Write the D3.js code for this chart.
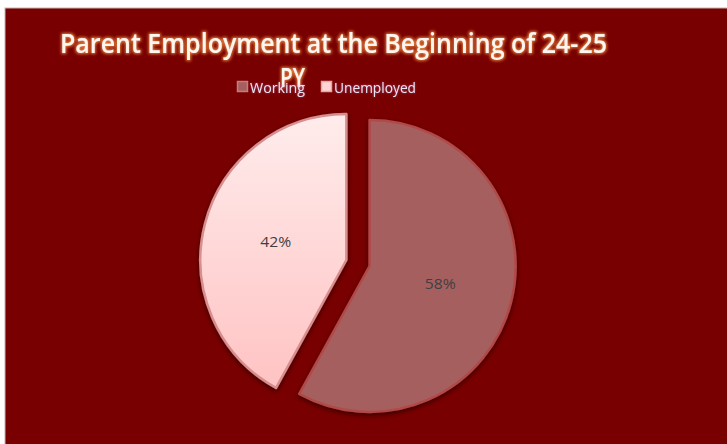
<!DOCTYPE html>
<html>
<head>
<meta charset="utf-8">
<script src="https://cdn.jsdelivr.net/npm/d3@7"></script>
<style>
  body { margin: 0; background: #ffffff; }
  svg { display: block; }
</style>
</head>
<body>
<div id="chart"></div>
<script>
// chart data
var categories = ['Working', 'Unemployed'];
var values = [58, 42];
var titleLines = ['Parent Employment at the Beginning of 24-25', 'PY'];

var width = 727, height = 444;
var radius = 146;
var center = {x: 358, y: 263};
var explode = 12; // distance each slice is pulled out

var fills = ['#a65f5f', 'url(#gradUnemp)'];
var strokes = ['#b24a4a', '#d88e8e'];
var swatch = ['#a65f5f', '#ffd6d6'];
var swatchStroke = ['#c47c7c', '#e6a6a6'];

var svg = d3.select('#chart')
    .append('svg')
    .attr('width', width)
    .attr('height', height);

var defs = svg.append('defs');

var grad = defs.append('linearGradient')
    .attr('id', 'gradUnemp')
    .attr('x1', 0).attr('y1', 0).attr('x2', 0).attr('y2', 1);
grad.append('stop').attr('offset', '0%').attr('stop-color', '#ffecec');
grad.append('stop').attr('offset', '100%').attr('stop-color', '#ffc3c3');

// soft shadow under the slices
var shadow = defs.append('filter').attr('id', 'shadow')
    .attr('x', '-20%').attr('y', '-20%').attr('width', '140%').attr('height', '140%');
shadow.append('feGaussianBlur').attr('in', 'SourceAlpha').attr('stdDeviation', 2.5);
shadow.append('feOffset').attr('dx', 0).attr('dy', 2).attr('result', 'off');
shadow.append('feComponentTransfer').append('feFuncA').attr('type', 'linear').attr('slope', 0.55);
var sm = shadow.append('feMerge');
sm.append('feMergeNode');
sm.append('feMergeNode').attr('in', 'SourceGraphic');

// orange glow behind the title text
var glow = defs.append('filter').attr('id', 'glow')
    .attr('x', '-10%').attr('y', '-40%').attr('width', '120%').attr('height', '180%');
glow.append('feMorphology').attr('in', 'SourceAlpha').attr('operator', 'dilate').attr('radius', 1.2).attr('result', 'dil');
glow.append('feGaussianBlur').attr('in', 'dil').attr('stdDeviation', 1.8).attr('result', 'blur');
glow.append('feFlood').attr('flood-color', '#ee8a40').attr('flood-opacity', 0.9);
glow.append('feComposite').attr('in2', 'blur').attr('operator', 'in').attr('result', 'glowc');
var gm = glow.append('feMerge');
gm.append('feMergeNode').attr('in', 'glowc');
gm.append('feMergeNode').attr('in', 'SourceGraphic');

var glowSmall = defs.append('filter').attr('id', 'glowSmall')
    .attr('x', '-10%').attr('y', '-40%').attr('width', '120%').attr('height', '180%');
glowSmall.append('feGaussianBlur').attr('in', 'SourceAlpha').attr('stdDeviation', 1).attr('result', 'blur');
glowSmall.append('feFlood').attr('flood-color', '#c07ad0').attr('flood-opacity', 0.6);
glowSmall.append('feComposite').attr('in2', 'blur').attr('operator', 'in').attr('result', 'glowc');
var gsm = glowSmall.append('feMerge');
gsm.append('feMergeNode').attr('in', 'glowc');
gsm.append('feMergeNode').attr('in', 'SourceGraphic');

// chart area background
svg.append('rect')
    .attr('x', 5).attr('y', 8)
    .attr('width', width).attr('height', height)
    .attr('fill', '#780000')
    .attr('stroke', '#c9b3b3')
    .attr('stroke-width', 1);

// title
svg.append('text')
    .attr('x', 60).attr('y', 53)
    .attr('textLength', 547)
    .attr('lengthAdjust', 'spacingAndGlyphs')
    .style('font-family', 'Open Sans, sans-serif')
    .style('font-size', '27px')
    .style('font-weight', 600)
    .attr('fill', '#fff6ee')
    .attr('filter', 'url(#glow)')
    .text(titleLines[0]);

svg.append('text')
    .attr('x', 280).attr('y', 87)
    .attr('textLength', 25)
    .attr('lengthAdjust', 'spacingAndGlyphs')
    .style('font-family', 'Open Sans, sans-serif')
    .style('font-size', '27px')
    .style('font-weight', 600)
    .attr('fill', '#fff6ee')
    .attr('filter', 'url(#glow)')
    .text(titleLines[1]);

// legend
var legendX = [237, 321];
var legendW = [55, 82];
var legend = svg.append('g').selectAll('g')
    .data(categories)
    .enter().append('g')
    .attr('transform', function(d, i){ return 'translate(' + legendX[i] + ',81)'; });

legend.append('rect')
    .attr('x', 0.5).attr('y', 0.5)
    .attr('width', 10).attr('height', 10)
    .attr('fill', function(d, i){ return swatch[i]; })
    .attr('stroke', function(d, i){ return swatchStroke[i]; })
    .attr('stroke-width', 1.5);

legend.append('text')
    .attr('x', 13).attr('y', 12)
    .attr('textLength', function(d, i){ return legendW[i]; })
    .attr('lengthAdjust', 'spacingAndGlyphs')
    .style('font-family', 'Open Sans, sans-serif')
    .style('font-size', '15px')
    .attr('fill', '#ece4f4')
    .attr('filter', 'url(#glowSmall)')
    .text(function(d){ return d; });

// pie
var pie = d3.pie().sort(null).value(function(d){ return d; });
var arc = d3.arc().innerRadius(0).outerRadius(radius);
var labelArc = d3.arc().innerRadius(radius * 0.5).outerRadius(radius * 0.5);

var arcs = pie(values);

var slices = svg.append('g')
    .attr('transform', 'translate(' + center.x + ',' + center.y + ')')
    .selectAll('g')
    .data(arcs)
    .enter().append('g')
    .attr('transform', function(d){
        var a = (d.startAngle + d.endAngle) / 2;
        return 'translate(' + (Math.sin(a) * explode) + ',' + (-Math.cos(a) * explode) + ')';
    });

slices.append('path')
    .attr('d', arc)
    .attr('fill', function(d, i){ return fills[i]; })
    .attr('stroke', function(d, i){ return strokes[i]; })
    .attr('stroke-width', 2.5)
    .attr('stroke-linejoin', 'round')
    .attr('filter', 'url(#shadow)');

slices.append('text')
    .attr('transform', function(d){ return 'translate(' + labelArc.centroid(d) + ')'; })
    .attr('text-anchor', 'middle')
    .attr('dy', '0.35em')
    .attr('textLength', 31)
    .attr('lengthAdjust', 'spacingAndGlyphs')
    .style('font-family', 'Open Sans, sans-serif')
    .style('font-size', '14px')
    .attr('fill', '#3f3f3f')
    .text(function(d){ return d.data + '%'; });
</script>
</body>
</html>
